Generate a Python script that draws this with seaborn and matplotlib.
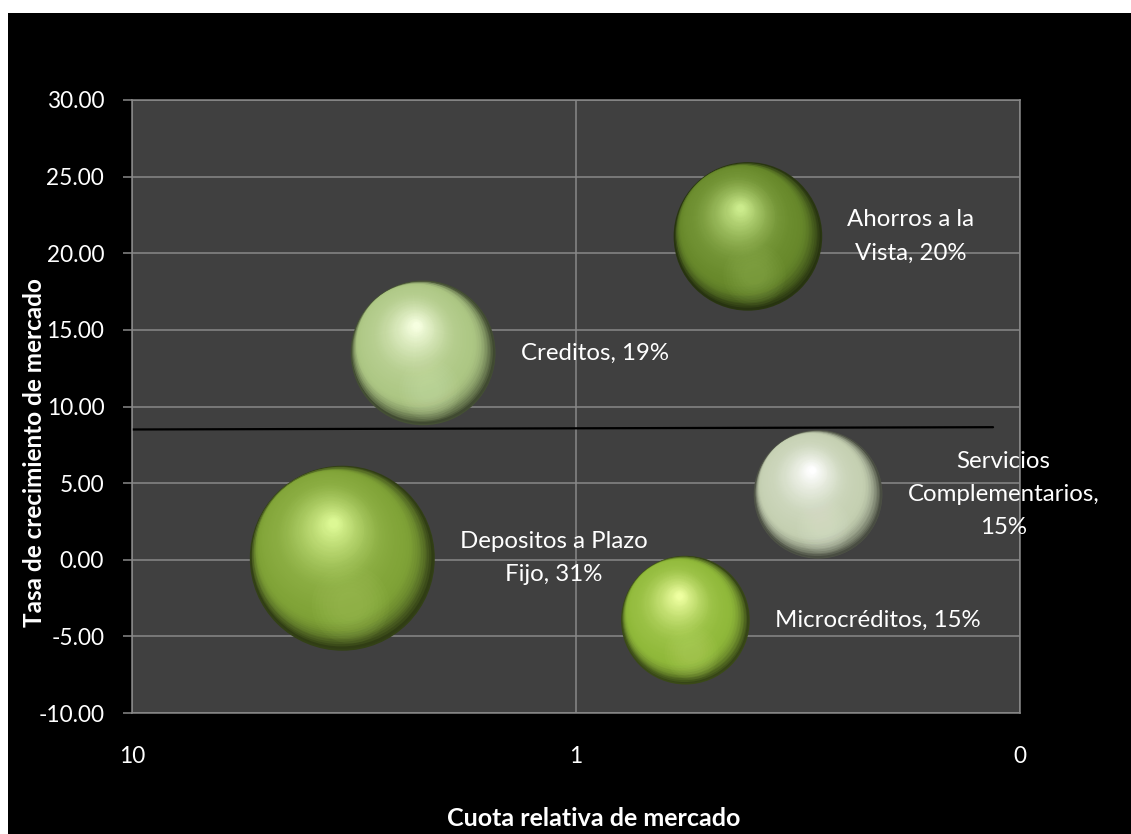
import numpy as np
import pandas as pd
import matplotlib
matplotlib.use("Agg")
import matplotlib.pyplot as plt
import matplotlib.transforms as mtransforms
from matplotlib.colors import to_rgb
from matplotlib.patches import Rectangle
from matplotlib.ticker import FuncFormatter, NullLocator, FixedLocator
import seaborn as sns

# ---------------- data ----------------
categorias = ["Depositos a Plazo Fijo", "Creditos", "Ahorros a la Vista",
              "Servicios Complementarios", "Microcréditos"]
cuota_relativa = [3.36, 2.21, 0.41, 0.285, 0.567]
crecimiento = [0.1, 13.5, 21.1, 4.27, -3.94]
participacion = [31, 19, 20, 15, 15]
etiquetas = ["Depositos a Plazo\nFijo, 31%", "Creditos, 19%",
             "Ahorros a la\nVista, 20%", "Servicios\nComplementarios,\n15%",
             "Microcréditos, 15%"]
linea_x = [10, 0.115]
linea_y = [8.5, 8.65]
y_ticks = [-10, -5, 0, 5, 10, 15, 20, 25, 30]
x_ticks = [10, 1, 0.1]

# ---------------- style ----------------
colores = ["#80a337", "#adc784", "#68892b", "#c5d0b2", "#90b93a"]
brillos = ["#dcf894", "#f6ffe0", "#cbeb8c", "#ffffff", "#eeffa0"]

sns.set_style("dark")
plt.rcParams["font.family"] = ["Lato", "DejaVu Sans"]

W, H = 1131, 834
fig = plt.figure(figsize=(W / 100, H / 100), dpi=100)
fig.patch.set_facecolor("white")
fig.add_artist(Rectangle((8 / W, 0), (W - 8) / W, (H - 13) / H,
                         transform=fig.transFigure, facecolor="black",
                         edgecolor="none", zorder=-10))

ax = fig.add_axes([132 / W, 1 - 713 / H, (1020 - 132) / W, (713 - 100) / H])
ax.set_facecolor("#404040")

df = pd.DataFrame({"categoria": categorias, "x": cuota_relativa,
                   "y": crecimiento, "p": participacion})

ax.set_xscale("log")
ax.set_xlim(10, 0.1)
ax.set_ylim(-10, 30)

K = 572.3  # points^2 per unit of participation
ax.plot(linea_x, linea_y, color="black", lw=1.6, zorder=2)


def mix(a, b, t):
    a = np.array(to_rgb(a)); b = np.array(to_rgb(b))
    return tuple(np.clip(a + (b - a) * t, 0, 1))


def shade(main, hi, t):
    rim = mix(main, "#000000", 0.72)
    base = mix(main, hi, 0.1)
    if t < 0.22:
        u = t / 0.22
        return mix(rim, main, 1 - (1 - u) ** 2)
    if t < 0.42:
        return mix(main, base, (t - 0.22) / 0.2)
    u = (t - 0.42) / 0.58
    return mix(base, hi, u ** 1.3)


rims = [mix(c, "#000000", 0.6) for c in colores]
sns.scatterplot(data=df, x="x", y="y", hue="categoria", palette=rims,
                size="p", sizes=(0, K * 31), size_norm=(0, 31),
                linewidth=0, legend=False, ax=ax, zorder=3)

dir1 = np.array([-0.6, 0.8])
hl = np.array([-0.1, 0.38])
t1 = 0.3
c1 = 0.93 * 0.95 * t1 * dir1
N = 70
for i in range(len(categorias)):
    s0 = K * participacion[i]
    R = np.sqrt(s0) / 2
    xi, yi = cuota_relativa[i], crecimiento[i]
    for k in range(1, N):
        t = k / (N - 1)
        f = 1 - 0.95 * t
        if t <= t1:
            c = 0.93 * (1 - f) * dir1
        else:
            c = c1 + (hl - c1) * (t - t1) / (1 - t1)
        tr = mtransforms.offset_copy(ax.transData, fig=fig, x=c[0] * R,
                                     y=c[1] * R, units="points")
        ax.scatter([xi], [yi], s=s0 * f * f,
                   color=[shade(colores[i], brillos[i], t)], linewidths=0,
                   transform=tr, zorder=3 + t)
    # soft lower reflection
    refl = mix(colores[i], brillos[i], 0.55)
    for j in range(8):
        fr = 0.42 - 0.04 * j
        tr = mtransforms.offset_copy(ax.transData, fig=fig, x=0.08 * R,
                                     y=-0.5 * R, units="points")
        ax.scatter([xi], [yi], s=s0 * fr * fr, color=[refl], alpha=0.05,
                   linewidths=0, transform=tr, zorder=4.5)

for i in range(len(categorias)):
    R = np.sqrt(K * participacion[i]) / 2
    ax.annotate(etiquetas[i], (cuota_relativa[i], crecimiento[i]),
                xytext=(R + 18, 0), textcoords="offset points",
                ha="left", va="center", multialignment="center",
                color="white", fontsize=17.3, linespacing=1.72,
                annotation_clip=False, zorder=10)

# axes
ax.xaxis.set_major_locator(FixedLocator(x_ticks))
ax.xaxis.set_minor_locator(NullLocator())
ax.xaxis.set_major_formatter(FuncFormatter(lambda v, p: f"{v:.0f}"))
ax.set_yticks(y_ticks)
ax.yaxis.set_major_formatter(FuncFormatter(lambda v, p: f"{v:.2f}"))
ax.grid(True, color="#888888", lw=1.1, zorder=0)
ax.set_axisbelow(True)
for sp in ax.spines.values():
    sp.set_visible(True)
    sp.set_color("#888888")
    sp.set_linewidth(1.1)
ax.tick_params(axis="y", length=6.5, width=1.1, color="#888888", pad=13.5,
               labelcolor="white", labelsize=16.3, left=True)
ax.tick_params(axis="x", length=0, pad=24, labelcolor="white", labelsize=16.3)
ax.set_xlabel("")
ax.set_ylabel("")

fig.text(594 / W, 1 - 818 / H, "Cuota relativa de mercado", color="white",
         fontsize=18, fontweight="bold", ha="center", va="center")
fig.text(35 / W, 1 - 453 / H, "Tasa de crecimiento de mercado", color="white",
         fontsize=17.5, fontweight="bold", ha="center", va="center", rotation=90)

fig.savefig("out.png", dpi=100, facecolor=fig.get_facecolor())
